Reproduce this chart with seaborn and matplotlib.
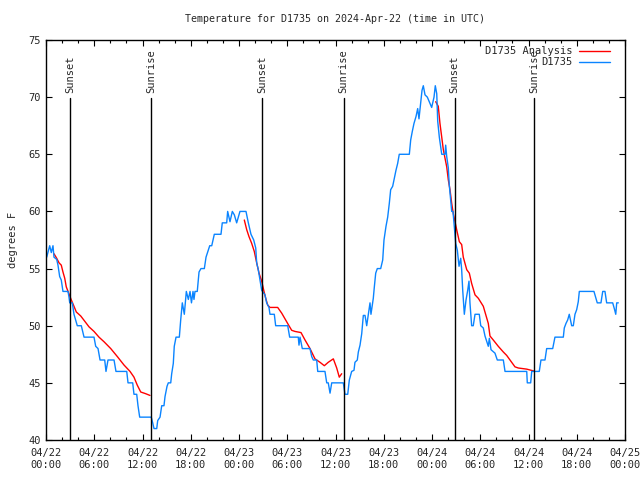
import pandas as pd
import seaborn as sns
import matplotlib
matplotlib.use("Agg")
import matplotlib.pyplot as plt
import matplotlib.dates as mdates

# hours since 2024-04-22 00:00 UTC, temperature in F
obs_hours = [0.09, 0.46, 0.66, 0.87, 0.99, 1.33, 1.49, 1.70, 1.90, 2.11, 2.74, 2.86, 2.95, 3.27,
             3.48, 3.89, 4.39, 4.73, 5.97, 6.18, 6.47, 6.72, 7.30, 7.46, 7.71, 8.46, 8.70, 10.04,
             10.20, 10.78, 10.94, 11.28, 11.44, 11.65, 13.09, 13.27, 13.43, 13.77, 13.89, 14.18,
             14.39, 14.67, 14.80, 15.05, 15.21, 15.51, 15.63, 15.83, 15.95, 16.17, 16.58, 16.75,
             16.95, 17.20, 17.45, 17.70, 17.91, 18.09, 18.28, 18.40, 18.53, 18.81, 19.03, 19.27,
             19.69, 19.90, 20.36, 20.61, 20.93, 21.76, 21.92, 22.47, 22.59, 22.88, 23.17, 23.42,
             23.71, 24.12, 24.87, 25.16, 25.49, 25.83, 26.08, 26.20, 26.40, 26.61, 26.82, 27.02,
             27.23, 27.44, 27.73, 27.85, 28.39, 28.56, 30.06, 30.30, 31.37, 31.46, 31.59, 31.87,
             32.83, 33.04, 33.24, 33.66, 33.79, 34.69, 34.91, 35.10, 35.32, 35.53, 36.97, 37.18,
             37.52, 37.72, 38.01, 38.30, 38.42, 38.71, 38.84, 39.05, 39.26, 39.46, 39.67, 39.88,
             40.08, 40.29, 40.41, 40.70, 40.83, 41.00, 41.20, 41.62, 41.87, 42.03, 42.28, 42.49,
             42.69, 42.86, 43.11, 43.31, 43.52, 43.73, 43.93, 45.18, 45.35, 45.55, 45.76, 46.01,
             46.22, 46.38, 46.60, 46.76, 46.92, 47.13, 47.42, 47.66, 47.96, 48.25, 48.41, 48.59,
             48.71, 48.91, 49.21, 49.62, 49.70, 49.83, 50.03, 50.15, 50.33, 50.45, 50.61, 50.77,
             50.95, 51.15, 51.36, 51.57, 51.69, 51.82, 52.02, 52.23, 52.44, 52.60, 52.72, 52.93,
             53.13, 53.35, 53.88, 54.06, 54.38, 54.59, 55.00, 55.13, 55.34, 55.83, 56.12, 56.87,
             57.08, 59.78, 59.85, 60.27, 60.40, 61.34, 61.55, 62.05, 62.26, 63.01, 63.29, 64.33,
             64.45, 64.66, 64.87, 65.07, 65.37, 65.57, 65.78, 65.99, 66.19, 66.32, 68.14, 68.39,
             68.55, 69.01, 69.23, 69.51, 69.72, 70.47, 70.67, 70.85, 70.97, 71.17]
obs_temp = [56, 57, 56.4, 57, 56, 55.8, 55.3, 54.3, 54, 53, 53, 52.5, 52, 52,
            51, 50, 50, 49, 49, 48.2, 48, 47, 47, 46, 47, 47, 46, 46,
            45, 45, 44, 44, 43, 42, 42, 41.5, 41, 41, 41.7, 42,
            43, 43, 43.8, 44.7, 45, 45, 45.8, 46.7, 48.2, 49, 49, 50.5,
            52, 51, 53, 52.3, 53, 52, 53, 52.3, 53, 53, 54.7, 55,
            55, 56, 57, 57, 58, 58, 59, 59, 60, 59.1, 60, 59.7,
            59, 60, 60, 59, 58, 57.5, 56.8, 55.5, 54.9, 54, 53.1, 52.9,
            52.7, 52, 51.6, 51, 51, 50, 50, 49, 49, 48.3, 49, 48,
            48, 47.3, 47, 47, 46, 46, 45, 45, 44.1, 45, 45, 44,
            44, 45.25, 46, 46.1, 46.8, 47, 47.7, 48.3, 49.3, 50.9, 50.9, 50,
            51, 52, 51, 52.4, 53.4, 54.6, 55, 55, 55.75, 57.5, 58.7, 59.5,
            60.7, 61.9, 62.2, 62.9, 63.6, 64.2, 65, 65, 66.25, 67, 67.7, 68.3,
            69, 68.1, 69.5, 70.6, 71, 70.2, 70, 69.6, 69.1, 70, 71, 70.3,
            67.9, 66.5, 65, 65, 65.8, 64.8, 63.8, 62.3, 60.9, 60, 60, 58.7,
            57.2, 56.6, 55.2, 55.9, 54.9, 53.1, 51, 52.25, 53.1, 53.9, 52, 50,
            50, 51, 51, 50, 49.8, 49.1, 48.2, 48.9, 47.9, 47.6, 47, 47,
            46, 46, 45, 45, 46, 46, 47, 47, 48, 48, 49, 49,
            49.8, 50.2, 50.5, 51, 50, 50, 51, 51.4, 52.1, 53, 53, 52.4,
            52, 52, 53, 53, 52, 52, 51.5, 51, 52, 52]

fit1_hours = [0.99, 1.33, 1.62, 1.90, 2.11, 2.33, 2.52, 2.74, 3.15, 3.48, 3.77, 4.32, 4.81,
              5.35, 5.97, 6.59, 7.21, 8.05, 8.87, 9.70, 10.45, 10.94, 11.35, 11.78, 12.40, 12.93]
fit1_temp = [56.3, 55.9, 55.5, 55.3, 54.7, 54.15, 53.4, 53, 52.25, 51.7, 51.2, 50.85, 50.4,
             49.9, 49.5, 49, 48.6, 48, 47.3, 46.56, 46, 45.5, 44.8, 44.2, 44.05, 43.9]
fit2_hours = [24.66, 24.96, 25.24, 25.58, 25.90, 26.20, 26.49, 26.82, 27.11, 27.32, 27.57,
              27.85, 28.81, 29.31, 29.72, 30.13, 30.55, 30.96, 31.71, 32.21, 32.83, 33.45,
              34.07, 34.61, 35.10, 35.73, 36.15, 36.47, 36.77]
fit2_temp = [59.25, 58.4, 57.8, 57.2, 56.5, 55.5, 54.6, 53.9, 53, 52.4, 51.8,
             51.6, 51.6, 51.1, 50.6, 50.1, 49.6, 49.5, 49.4, 48.75, 48, 47.1,
             46.8, 46.5, 46.8, 47.1, 46.3, 45.5, 45.8]
fit3_hours = [48.46, 48.78, 48.99, 49.21, 49.41, 49.83, 50.03, 50.24, 50.45, 50.65, 50.86,
              51.07, 51.40, 51.69, 51.89, 52.32, 52.64, 52.93, 53.35, 53.76, 54.38, 55.00,
              55.21, 55.62, 56.24, 56.87, 57.29, 57.70, 58.32, 58.73, 59.78, 60.61]
fit3_temp = [69.6, 69.2, 67.7, 66.5, 65.4, 63.9, 62.75, 61.9, 60.7, 59.8, 59.1,
             58.4, 57.35, 57.1, 56, 54.9, 54.6, 53.7, 52.7, 52.4, 51.7, 50.2,
             49.1, 48.75, 48.2, 47.7, 47.4, 47, 46.4, 46.3, 46.2, 46.05]

sun_hours = [3.02, 13.1, 26.9, 37.0, 50.8, 60.7]
sun_labels = ["Sunset", "Sunrise", "Sunset", "Sunrise", "Sunset", "Sunrise"]

base = pd.Timestamp("2024-04-22 00:00")
obs = pd.DataFrame({"time": base + pd.to_timedelta(obs_hours, unit="h"), "temp": obs_temp})
fit = pd.concat([
    pd.DataFrame({"time": base + pd.to_timedelta(h, unit="h"), "temp": t, "seg": i})
    for i, (h, t) in enumerate([(fit1_hours, fit1_temp), (fit2_hours, fit2_temp),
                                (fit3_hours, fit3_temp)])
], ignore_index=True)

sns.set_style("ticks")
plt.rcParams["font.family"] = ["DejaVu Sans Mono"]
plt.rcParams["font.size"] = 7

fig = plt.figure(figsize=(6.4, 4.8), dpi=100)
ax = fig.add_axes([46 / 640, 40 / 480, 579 / 640, 400 / 480])

sns.lineplot(data=fit, x="time", y="temp", units="seg", estimator=None, sort=False,
             color="#ff0000", lw=1.0, ax=ax)
sns.lineplot(data=obs, x="time", y="temp", estimator=None, sort=False,
             color="#0a84ff", lw=1.0, ax=ax)

for h, lab in zip(sun_hours, sun_labels):
    t = base + pd.Timedelta(hours=h)
    ax.axvline(t, ymin=0, ymax=0.855, color="black", lw=1.0)
    ax.text(t, 0.868, lab, transform=ax.get_xaxis_transform(), rotation=90,
            ha="center", va="bottom", fontsize=7.5)

ax.set_xlim(base, base + pd.Timedelta(hours=72))
ax.set_ylim(40, 75)
ax.set_yticks(range(40, 76, 5))
ax.xaxis.set_major_locator(mdates.HourLocator(byhour=range(0, 24, 6)))
ax.xaxis.set_minor_locator(mdates.HourLocator(byhour=range(0, 24, 2)))
ax.xaxis.set_major_formatter(mdates.DateFormatter("%m/%d\n%H:%M"))
ax.tick_params(which="both", direction="in", top=True, right=True, color="black",
               labelsize=7.5, width=0.8)
ax.tick_params(which="major", length=4)
ax.tick_params(which="minor", length=2)
ax.tick_params(axis="x", pad=6)
for s in ax.spines.values():
    s.set_color("black")
    s.set_linewidth(1.0)

ax.set_xlabel("")
ax.set_ylabel("degrees F", fontsize=7.5, labelpad=8)

red = plt.Line2D([], [], color="#ff0000", lw=1.0)
blue = plt.Line2D([], [], color="#0a84ff", lw=1.0)
ax.legend([red, blue], ["D1735 Analysis", "D1735"], loc="upper right",
          bbox_to_anchor=(0.985, 1.0), frameon=False, markerfirst=False,
          handlelength=3.0, handletextpad=0.6, labelspacing=0.1, fontsize=7.5,
          borderaxespad=0.2)

fig.text(335 / 640, 1 - 19 / 480, "Temperature for D1735 on 2024-Apr-22 (time in UTC)",
         ha="center", va="center", fontsize=7.2)

fig.savefig("out.png", dpi=100)
